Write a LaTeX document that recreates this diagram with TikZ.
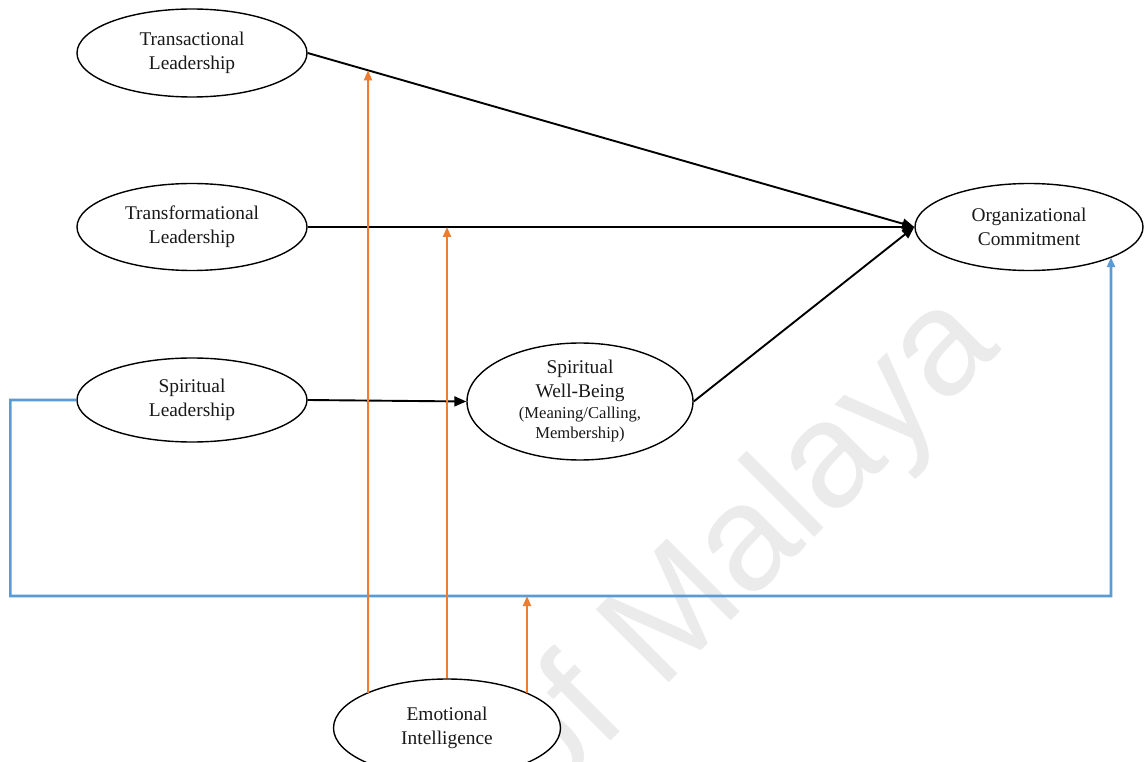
\documentclass[tikz,border=0pt]{standalone}
\usepackage{fontspec}
\setmainfont{Liberation Serif}
\newfontfamily\wmfont{Liberation Sans}
\usetikzlibrary{shapes.geometric,arrows.meta,intersections}
\definecolor{modorange}{HTML}{ED7D31}
\definecolor{linkblue}{HTML}{5B9BD5}
\newcommand{\swbsmall}{\fontsize{16.6}{20}\selectfont}
\begin{document}
\begin{tikzpicture}[x=1pt,y=-1pt,
  construct/.style={ellipse,draw=black,line width=1.4pt,fill=white,inner sep=0pt,
    align=center,font=\fontsize{19.4}{24}\selectfont,text=black!90},
  mainarrow/.style={draw=black,line width=1.9pt,-{Triangle[length=12pt,width=10pt]}},
  modarrow/.style={draw=modorange,line width=2pt,-{Triangle[length=10pt,width=8pt]}},
  bluelink/.style={draw=linkblue,line width=2.6pt,-{Triangle[length=10pt,width=8pt]}},
  watermark/.style={font=\wmfont\fontsize{150}{150}\selectfont,text=black!8,inner sep=0pt}]
\useasboundingbox (0,0) rectangle (1144,762);

% faint background watermark
\begin{scope}
  \clip (0,0) rectangle (1144,762);
  \node[watermark,rotate=45] (wm) at (745,552) {of Malaya};
\end{scope}

% constructs
\node[construct,minimum width=230,minimum height=88] (ta) at (192,53) {Transactional\\Leadership};
\node[construct,minimum width=230,minimum height=87] (tf) at (192,227) {Transformational\\Leadership};
\node[construct,minimum width=230,minimum height=84] (sl) at (192,400) {Spiritual\\Leadership};
\node[construct,minimum width=226,minimum height=117] (swb) at (580,401.5)
  {Spiritual\\Well-Being\\[-3pt]{\swbsmall (Meaning/Calling,}\\[-4pt]{\swbsmall Membership)}};
\node[construct,minimum width=228,minimum height=87,name path=ocP] (oc) at (1029,227) {Organizational\\Commitment};
\node[construct,minimum width=227,minimum height=98,name path=eiP] (ei) at (447,728) {Emotional\\Intelligence};

% direct paths
\draw[mainarrow,name path=taoc] (ta.east) -- (oc.west);
\draw[mainarrow] (tf.east) -- (oc.west);
\draw[mainarrow] (sl.east) -- (swb.west);
\draw[mainarrow] (swb.east) -- (oc.west);

% direct link from spiritual leadership to commitment
\path[name path=bv] (1111,232) -- (1111,400);
\path[name intersections={of=bv and ocP, by=ocb}];
\coordinate (bcorner) at (1111,596);
\draw[bluelink] (sl.west) -- ++(-66,0) |- (bcorner) -- (ocb);

% moderating effects of emotional intelligence
\path[name path=v1] (368,0) -- (368,762);
\path[name intersections={of=v1 and eiP, by=e1}];
\path[name intersections={of=v1 and taoc, by=t1}];
\draw[modarrow] (e1) -- (t1);
\draw[modarrow] (ei.north) -- (ei.north |- tf.east);
\path[name path=v3] (527,600) -- (527,762);
\path[name intersections={of=v3 and eiP, by=e3}];
\draw[modarrow] (e3) -- (e3 |- bcorner);
\end{tikzpicture}
\end{document}
